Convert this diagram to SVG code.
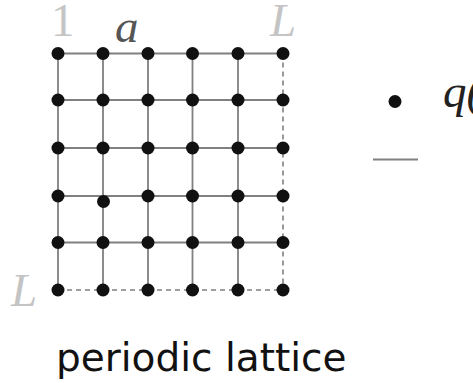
<svg xmlns="http://www.w3.org/2000/svg" width="473" height="383" viewBox="0 0 473 383">
<style>
.g{stroke:#808080;stroke-width:1.8;fill:none}
.d{stroke:#808080;stroke-width:1.6;fill:none;stroke-dasharray:5 4}
.n{fill:#111}
.lab{font-family:"Liberation Serif",serif;font-size:47px;fill:#c4c4c4}
.it{font-style:italic}
</style>
<rect width="473" height="383" fill="#fff"/>
<g id="connectors">
<path class="g" d="M58,53.5H283M58,100H283M58,148H283M58,196H283M58,242.5H283"/>
<path class="g" d="M58,53.5V290M103,53.5V290M148,53.5V290M192.5,53.5V290M238,53.5V290"/>
<path class="d" d="M58,290H283M283,53.5V290"/>
<path class="g" d="M373,159.5H418"/>
</g>
<g id="nodes">
<g id="row1"><circle class="n" cx="58" cy="53.5" r="6.5"/><circle class="n" cx="103" cy="53.5" r="6.5"/><circle class="n" cx="148" cy="53.5" r="6.5"/><circle class="n" cx="192.5" cy="53.5" r="6.5"/><circle class="n" cx="238" cy="53.5" r="6.5"/><circle class="n" cx="283" cy="53.5" r="6.5"/></g>
<g id="row2"><circle class="n" cx="58" cy="100" r="6.5"/><circle class="n" cx="103" cy="100" r="6.5"/><circle class="n" cx="148" cy="100" r="6.5"/><circle class="n" cx="192.5" cy="100" r="6.5"/><circle class="n" cx="238" cy="100" r="6.5"/><circle class="n" cx="283" cy="100" r="6.5"/></g>
<g id="row3"><circle class="n" cx="58" cy="148" r="6.5"/><circle class="n" cx="103" cy="148" r="6.5"/><circle class="n" cx="148" cy="148" r="6.5"/><circle class="n" cx="192.5" cy="148" r="6.5"/><circle class="n" cx="238" cy="148" r="6.5"/><circle class="n" cx="283" cy="148" r="6.5"/></g>
<g id="row4"><circle class="n" cx="58" cy="196" r="6.5"/><circle class="n" cx="103.5" cy="201.5" r="6.5"/><circle class="n" cx="148" cy="196" r="6.5"/><circle class="n" cx="192.5" cy="196" r="6.5"/><circle class="n" cx="238" cy="196" r="6.5"/><circle class="n" cx="283" cy="196" r="6.5"/></g>
<g id="row5"><circle class="n" cx="58" cy="242.5" r="6.5"/><circle class="n" cx="103" cy="242.5" r="6.5"/><circle class="n" cx="148" cy="242.5" r="6.5"/><circle class="n" cx="192.5" cy="242.5" r="6.5"/><circle class="n" cx="238" cy="242.5" r="6.5"/><circle class="n" cx="283" cy="242.5" r="6.5"/></g>
<g id="row6"><circle class="n" cx="58" cy="290" r="6.5"/><circle class="n" cx="103" cy="290" r="6.5"/><circle class="n" cx="148" cy="290" r="6.5"/><circle class="n" cx="192.5" cy="290" r="6.5"/><circle class="n" cx="238" cy="290" r="6.5"/><circle class="n" cx="283" cy="290" r="6.5"/></g>
<g id="legend-dot"><circle class="n" cx="395" cy="101.5" r="6.5"/></g>
</g>
<g id="labels">
<text class="lab" x="51" y="36">1</text>
<text class="lab it" x="115" y="42" style="fill:#555">a</text>
<text class="lab it" x="270" y="36">L</text>
<text class="lab it" x="11" y="306">L</text>
<text class="lab it" x="443" y="107" style="fill:#222">q(</text>
<text x="56" y="371" font-family="DejaVu Sans, sans-serif" font-size="39" fill="#111">periodic lattice</text>
</g>
</svg>
